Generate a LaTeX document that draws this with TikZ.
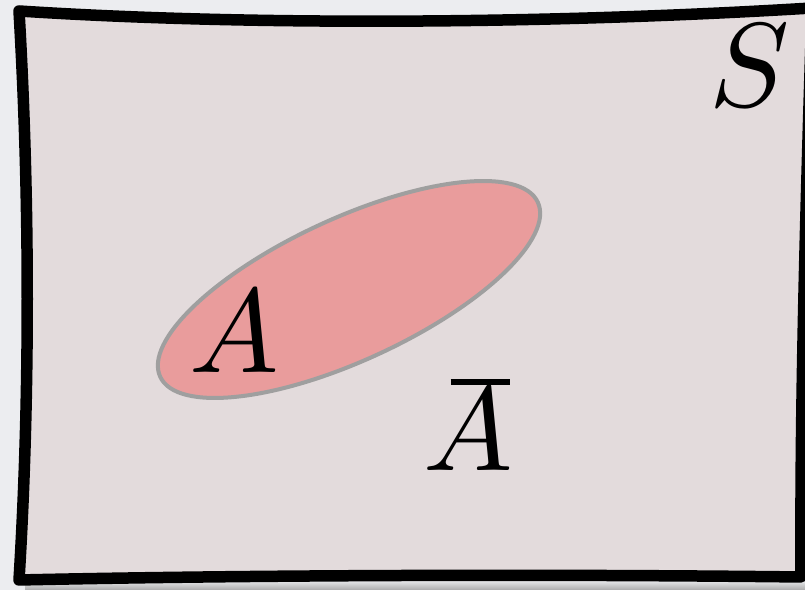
\documentclass[tikz,border=0pt]{standalone}
\usepackage{tikz}
\usetikzlibrary{positioning}
\definecolor{pagebg}{HTML}{ECEDF0}
\definecolor{spacefill}{HTML}{E3DBDC}
\definecolor{setfill}{HTML}{E99C9C}
\definecolor{setline}{HTML}{9F9F9F}
\newcommand{\bigsym}[1]{\scalebox{6.8}{#1}}
\newcommand{\compl}[1]{\makebox[0pt][l]{\hspace{2.3pt}\raisebox{7.2pt}{\rule{5pt}{0.5pt}}}$#1$}
\begin{document}
\begin{tikzpicture}[x=0.2mm, y=0.2mm,
    frame/.style={draw=black, fill=spacefill, line width=2.3mm, line join=round},
    setA/.style={draw=setline, fill=setfill, line width=0.8mm},
    bigmath/.style={inner sep=0pt, anchor=base}]
    % Background and shadow
    \useasboundingbox[fill=pagebg] (0,0) rectangle (805,590);
    \shade[top color=pagebg, bottom color=black!33] (25,0) rectangle (805,10);

    % Sample space
    \draw[frame] (19,579) .. controls (250,564) and (550,566) .. (812,582)
        .. controls (806,390) and (800,190) .. (801,13)
        .. controls (550,16) and (250,15) .. (19,10)
        .. controls (30,190) and (30,390) .. cycle;

    % Event A
    \draw[setA, rotate around={24.8:(349,300.5)}] (349,300.5) ellipse [x radius=208, y radius=71];

    % Labels
    \node[bigmath] (labelA) at (234,217) {\bigsym{$A$}};
    \node[bigmath] (labelAbar) at (468,119) {\bigsym{\compl{A}}};
    \node[bigmath] (labelS) at (750,483) {\bigsym{$S$}};
\end{tikzpicture}
\end{document}
